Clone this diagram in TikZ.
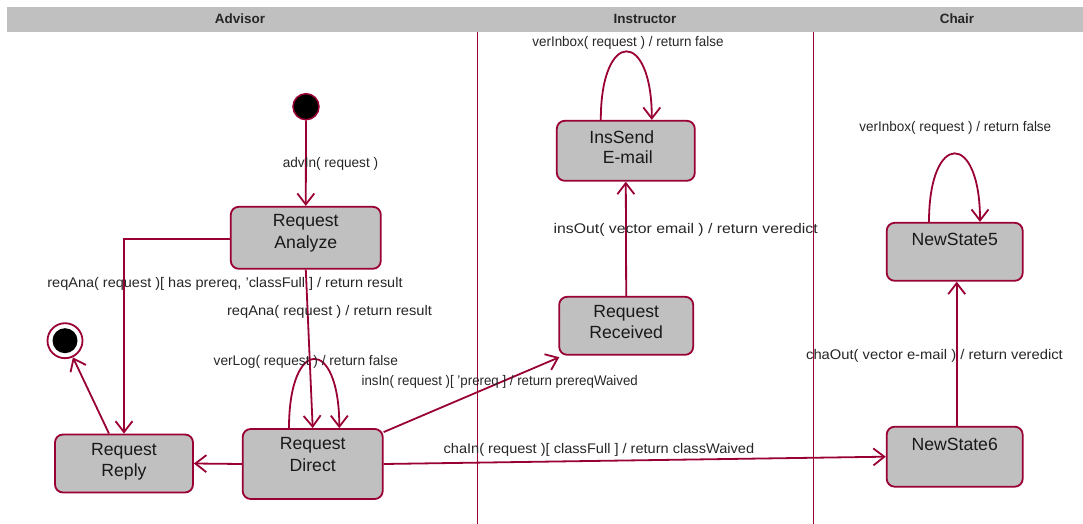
\documentclass[tikz,border=0pt]{standalone}
\usepackage{fontspec}
\usepackage{graphicx}
\setmainfont{Liberation Sans}
\usetikzlibrary{arrows.meta}
\definecolor{edgec}{RGB}{153,0,51}
\definecolor{boxg}{RGB}{192,192,192}
\newcommand{\lbltext}[2]{\scalebox{#1}[1]{#2}}
\begin{document}
\begin{tikzpicture}[x=1bp,y=-1bp,
 stbox/.style={draw=edgec, fill=boxg, line width=1.8bp, rounded corners=8bp, inner sep=0pt,
   font=\fontsize{17.7}{21.7}\selectfont, text=black!90, text height=13bp},
 conn/.style={draw=edgec, line width=1.8bp, -{Straight Barb[length=11bp,width=17bp]}},
 lbl/.style={font=\fontsize{14}{16}\selectfont, inner sep=0pt, text=black!85, yshift=-1.5bp},
 lanel/.style={draw=edgec, line width=0.9bp},
 hdr/.style={font=\bfseries\fontsize{13.5}{16}\selectfont, inner sep=0pt, text=black!85}]
\useasboundingbox (0,0) rectangle (1083,524);
% header band
\fill[boxg] (7,7.3) rectangle (1083,32.3);
\node[hdr] (hadv) at (240,19) {Advisor};
\node[hdr] (hins) at (645,19) {Instructor};
\node[hdr] (hcha) at (957,19) {Chair};
% lanes
\draw[lanel] (477.7,32.3) -- (477.7,524);
\draw[lanel] (813.3,32.3) -- (813.3,524);
% states
\node[draw=edgec, fill=black, circle, line width=1.5bp, minimum size=26bp, inner sep=0pt] (start) at (306,106.7) {};
\node[draw=edgec, fill=white, circle, line width=1.8bp, minimum size=35bp, inner sep=0pt,
  path picture={\fill[black] (path picture bounding box.center) circle[radius=12.5bp];}] (fin) at (65,340.7) {};
\node[stbox, minimum width=150bp, minimum height=62bp, text depth=35bp] (ana) at (305.8,237.8)
  {\begin{tabular}[t]{@{}c@{}}Request\\Analyze\end{tabular}};
\node[stbox, minimum width=138bp, minimum height=58bp, text depth=30bp] (rep) at (124,463.5)
  {\begin{tabular}[t]{@{}c@{}}Request\\Reply\end{tabular}};
\node[stbox, minimum width=140bp, minimum height=70bp, text depth=42bp] (dir) at (312.7,464)
  {\begin{tabular}[t]{@{}c@{}}Request\\Direct\end{tabular}};
\node[stbox, minimum width=138bp, minimum height=60bp, text depth=28bp] (ins) at (625.8,150.8)
  {\begin{tabular}[t]{@{}c@{}}InsSend\kern8bp\\[-1.5bp]\kern4bp E-mail\end{tabular}};
\node[stbox, minimum width=134bp, minimum height=58bp, text depth=30bp] (rec) at (626.2,325.8)
  {\begin{tabular}[t]{@{}c@{}}Request\\Received\end{tabular}};
\node[stbox, minimum width=136bp, minimum height=58bp, text depth=25bp] (ns5) at (954.7,251.8) {NewState5};
\node[stbox, minimum width=136bp, minimum height=60bp, text depth=26.4bp] (ns6) at (954.7,456.7) {NewState6};
% transitions
\draw[conn] (start) -- (ana.north);
\draw[conn] ([yshift=-1bp]ana.west) -| (rep.north);
\draw[conn] (ana.south) -- (dir.north);
\draw[conn] ([xshift=-23.7bp]dir.north) .. controls +(0,-92) and +(0,-92) .. ([xshift=26.6bp]dir.north);
\draw[conn] (dir.west) -- (rep.east);
\draw[conn] ([xshift=-15bp]rep.north) -- (fin);
\draw[conn] ([yshift=-4bp]dir.north east) -- ([xshift=1bp,yshift=-1.5bp]rec.south west);
\draw[conn] (dir.east) -- (ns6.west);
\draw[conn] (rec.north) -- (ins.south);
\draw[conn] ([xshift=-25bp]ins.north) .. controls +(0,-91) and +(0,-91) .. ([xshift=26bp]ins.north);
\draw[conn] ([xshift=-25.7bp]ns5.north) .. controls +(0,-91) and +(0,-91) .. ([xshift=25.3bp]ns5.north);
\draw[conn] ([xshift=2bp]ns6.north) -- ([xshift=2bp]ns5.south);
% labels
\node[lbl] (l1) at (330.5,162.7) {\lbltext{0.976}{advIn( request )}};
\node[lbl] (l2) at (225,282.7) {\lbltext{1.039}{reqAna( request )[ has prereq, 'classFull ] / return result}};
\node[lbl] (l3) at (329.5,310.7) {\lbltext{1.053}{reqAna( request ) / return result}};
\node[lbl] (l4) at (305.8,360.7) {\lbltext{0.982}{verLog( request ) / return false}};
\node[lbl] (l5) at (499.7,380.7) {\lbltext{0.952}{insIn( request )[ 'prereq ] / return prereqWaived}};
\node[lbl] (l6) at (598.9,448.3) {\lbltext{1.045}{chaIn( request )[ classFull ] / return classWaived}};
\node[lbl] (l7) at (685.7,228) {\lbltext{1.132}{insOut( vector email ) / return veredict}};
\node[lbl] (l8) at (628,41) {\lbltext{0.964}{verInbox( request ) / return false}};
\node[lbl] (l9) at (955.3,126.7) {\lbltext{0.967}{verInbox( request ) / return false}};
\node[lbl] (l10) at (934.5,354.3) {\lbltext{1.058}{chaOut( vector e-mail ) / return veredict}};
\end{tikzpicture}
\end{document}
